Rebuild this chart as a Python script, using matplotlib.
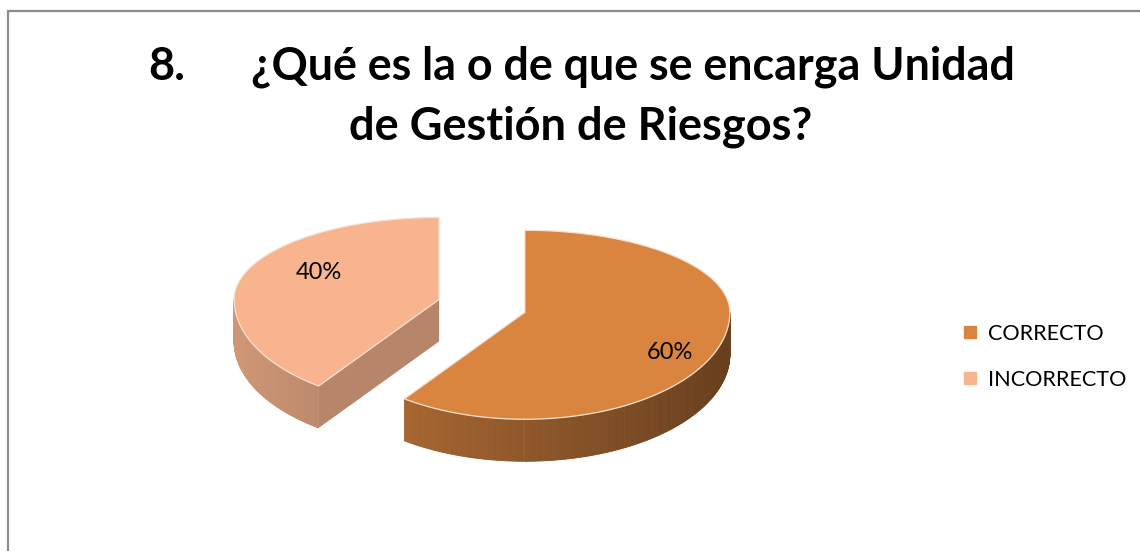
import numpy as np
import matplotlib
matplotlib.use("Agg")
import matplotlib.pyplot as plt
from matplotlib.patches import Polygon
from matplotlib.lines import Line2D
import matplotlib.colors as mcolors

# data
labels = ["CORRECTO", "INCORRECTO"]
shares = [60, 40]
pct_labels = ["60%", "40%"]
colors = ["#D9843F", "#F7B48E"]
title_num = "8."
title_line1 = "¿Qué es la o de que se encarga Unidad"
title_line2 = "de Gestión de Riesgos?"

# layout (pixels)
W, H = 1140, 551
CX, CY = 482, 305
RX, RY_BACK, RY_FRONT = 205, 82, 107
DEPTH = 42
EXPLODE = 0.22
label_r = 0.66
label_nudge = [(16, 18), (8, -10)]

plt.rcParams["font.family"] = ["Lato", "DejaVu Sans"]


def ry_of(t):
    return np.where(np.sin(t) > 0, RY_BACK, RY_FRONT)


def rim(t, ox, oy, r=1.0):
    t = np.asarray(t, dtype=float)
    return ox + RX * r * np.cos(t), oy - ry_of(t) * r * np.sin(t)


def shade(c, f):
    rgb = np.array(mcolors.to_rgb(c))
    return tuple(np.clip(rgb * f, 0, 1))


fig = plt.figure(figsize=(W / 100, H / 100), dpi=100)
ax = fig.add_axes([0, 0, 1, 1])
ax.set_xlim(0, W)
ax.set_ylim(H, 0)
ax.axis("off")

# chart frame
ax.plot([8, 8, W + 5], [H + 5, 11, 11], color="#8c8c8c", lw=1.6,
        solid_joinstyle="miter")

# slices, clockwise from 12 o'clock
total = float(sum(shares))
start = np.pi / 2
slices = []
for val, col, pct in zip(shares, colors, pct_labels):
    sweep = 2 * np.pi * val / total
    hi, lo = start, start - sweep
    mid = (hi + lo) / 2
    ox = CX + EXPLODE * RX * np.cos(mid)
    oy = CY - EXPLODE * float(ry_of(mid)) * np.sin(mid)
    slices.append((lo, hi, mid, ox, oy, col, pct))
    start = lo

# draw the back-left slice first
for i in [1, 0]:
    lo, hi, mid, ox, oy, col, pct = slices[i]
    # radial faces that face the viewer
    for a, nrm in [(hi, hi + np.pi / 2), (lo, lo - np.pi / 2)]:
        if np.sin(nrm) < -1e-6:
            rx_, ry_ = rim(a, ox, oy)
            face = [(ox, oy), (rx_, ry_), (rx_, ry_ + DEPTH), (ox, oy + DEPTH)]
            ax.add_patch(Polygon(face, closed=True, fc=shade(col, 0.74),
                                 ec="none", zorder=2))
    # outer wall, front half only
    ts = np.linspace(lo, hi, 400)
    for t0, t1 in zip(ts[:-1], ts[1:]):
        tm = (t0 + t1) / 2
        if np.sin(tm) >= 0:
            continue
        x0, y0 = rim(t0, ox, oy)
        x1, y1 = rim(t1, ox, oy)
        f = 0.84 - 0.36 * (np.cos(tm) + 1) / 2
        ax.add_patch(Polygon([(x0, y0), (x1, y1), (x1, y1 + DEPTH), (x0, y0 + DEPTH)],
                             closed=True, fc=shade(col, f), ec=shade(col, f),
                             lw=0.6, zorder=3))
    # top surface
    xs, ys = rim(ts, ox, oy)
    top = np.column_stack([np.r_[ox, xs], np.r_[oy, ys]])
    ax.add_patch(Polygon(top, closed=True, fc=col, ec="#F6E3D2", lw=0.9, zorder=4))
    # value label
    lx, ly = rim(mid, ox, oy, label_r)
    ax.text(lx + label_nudge[i][0], ly + label_nudge[i][1], pct, fontsize=17,
            ha="center", va="center", color="black", zorder=5)

# title
ax.text(148, 80, title_num, fontsize=32.5, fontweight="bold", ha="left", va="baseline")
ax.text(251, 80, title_line1, fontsize=32.3, fontweight="bold", ha="left", va="baseline")
ax.text(581, 140, title_line2, fontsize=32.5, fontweight="bold", ha="center", va="baseline")

# legend
handles = [Line2D([], [], ls="", marker="s", markersize=8.5, color=c) for c in colors]
ax.legend(handles, labels, loc="center left", bbox_to_anchor=(953 / W, 1 - 357 / H),
          frameon=False, prop={"size": 15.6}, labelspacing=1.2, handletextpad=0.4,
          handlelength=0.8, borderaxespad=0)

fig.savefig("out.png", dpi=100)
